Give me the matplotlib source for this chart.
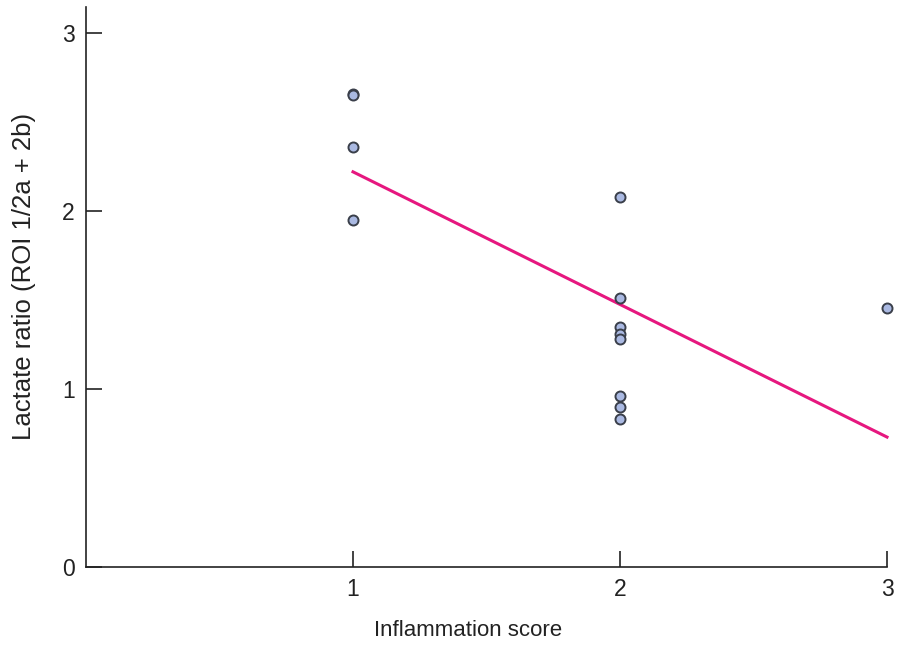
import matplotlib.pyplot as plt

# inflammation score vs lactate ratio
score = [1, 1, 1, 1, 2, 2, 2, 2, 2, 2, 2, 2, 3]
lactate = [2.66, 2.65, 2.36, 1.95, 2.08, 1.51, 1.35, 1.31, 1.28, 0.96, 0.90, 0.83, 1.455]

# regression line end points
fit_x = [1, 3]
fit_y = [2.22, 0.73]

plt.rcParams['font.family'] = ['Liberation Sans', 'DejaVu Sans']

fig = plt.figure(figsize=(8.97, 6.51), dpi=100)
ax = fig.add_axes([86 / 897, 1 - 567 / 651, 801 / 897, 560 / 651])

ax.plot(fit_x, fit_y, color='#e6177f', lw=2.2, zorder=2, clip_on=False)
ax.scatter(score, lactate, s=52, facecolor='#aab9e2', edgecolor='#3a3f4a',
           linewidth=1.4, zorder=3, clip_on=False)

ax.set_xlim(0, 3)
ax.set_ylim(0, 3.146)
ax.set_xticks([1, 2, 3])
ax.set_yticks([0, 1, 2, 3])
ax.spines['top'].set_visible(False)
ax.spines['right'].set_visible(False)
for s in ['left', 'bottom']:
    ax.spines[s].set_linewidth(1.2)
    ax.spines[s].set_color('#222222')
ax.tick_params(direction='in', length=11.5, width=1.2, color='#222222',
               labelsize=16.5, labelcolor='#222222', pad=8)

ax.set_xlabel('Inflammation score', fontsize=16, color='#222222', labelpad=13)
ax.set_ylabel('Lactate ratio (ROI 1/2a + 2b)', fontsize=18.5, color='#222222', labelpad=11)
ax.xaxis.set_label_coords(0.477, -0.095)
ax.yaxis.set_label_coords(-0.062, 0.518)

fig.savefig('out.png', dpi=100)
